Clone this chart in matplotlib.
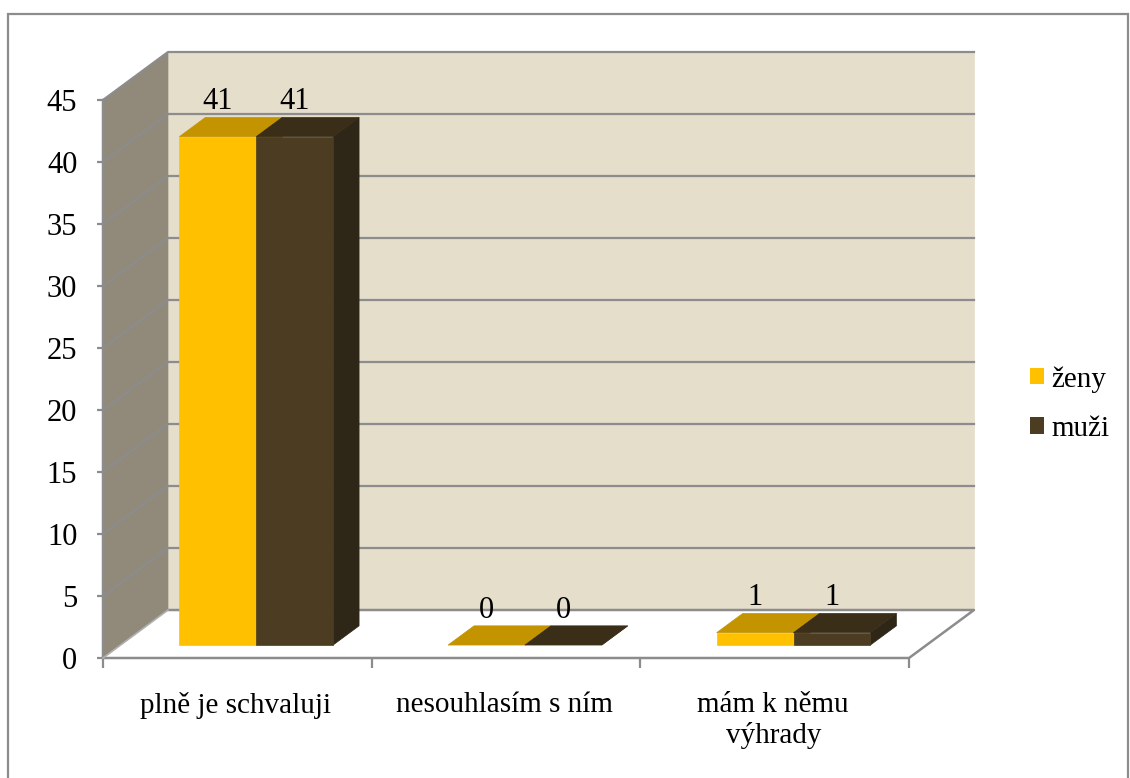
import matplotlib
matplotlib.use('Agg')
import matplotlib.pyplot as plt
from matplotlib.patches import Polygon, Rectangle, Patch

plt.rcParams['font.family'] = ['Liberation Serif', 'DejaVu Serif']

categories = ['plně je schvaluji', 'nesouhlasím s ním', 'mám k němu\nvýhrady']
zeny = [41, 0, 1]
muzi = [41, 0, 1]
series_names = ['ženy', 'muži']
yticks = [0, 5, 10, 15, 20, 25, 30, 35, 40, 45]

W, H = 1130, 778
# front plane of the fake 3d box in pixels
left, right, top, bottom = 103, 909, 100, 658
depth_x = 65 / ((right - left) / 3)
depth_y = 48 / ((bottom - top) / 45)

grid_c = '#8c8c8c'
wall_c = '#e5decb'
side_c = '#918a7b'
front_c = ['#ffc000', '#4c3d22']
top_c = ['#c49400', '#3a2e18']
right_c = ['#a07800', '#2e2616']


def proj(x, y, d):
    # d=0 front of the box, d=1 back wall
    return (x + d * depth_x, y + d * depth_y)


fig = plt.figure(figsize=(W / 100, H / 100), dpi=100)
fig.patches.append(Rectangle((8 / W, -0.01), (1128 - 8) / W, (778 - 14) / H + 0.01,
                             transform=fig.transFigure, fill=False, ec='#8c8c8c', lw=1.6))
ax = fig.add_axes([left / W, 1 - bottom / H, (right - left) / W, (bottom - top) / H])
ax.set_xlim(0, 3)
ax.set_ylim(0, 45)
ax.patch.set_visible(False)
for s in ax.spines.values():
    s.set_visible(False)


def poly(pts, fc, z=1):
    ax.add_patch(Polygon(pts, closed=True, fc=fc, ec=fc, lw=0.5, zorder=z, clip_on=False))


# walls
poly([proj(0, 0, 1), proj(3, 0, 1), proj(3, 45, 1), proj(0, 45, 1)], wall_c, 1)
poly([proj(0, 0, 0), proj(0, 0, 1), proj(0, 45, 1), proj(0, 45, 0)], side_c, 1)

# grid lines on back and side walls
for v in yticks[1:]:
    xs, ys = zip(proj(0, v, 0), proj(0, v, 1), proj(3, v, 1))
    ax.plot(xs, ys, color=grid_c, lw=1.6, zorder=2, clip_on=False)
xs, ys = zip(proj(0, 0, 1), proj(3, 0, 1), proj(3, 0, 0), proj(0, 0, 0), proj(0, 45, 0))
ax.plot(xs, ys, color=grid_c, lw=1.8, zorder=2, clip_on=False)
xs, ys = zip(proj(0, 0, 0), proj(0, 0, 1))
ax.plot(xs, ys, color='#b0b0b0', lw=1.2, zorder=2, clip_on=False)

# bars
bar_w = 0.286
d0, d1 = 0.27, 0.67
for s, vals in enumerate([zeny, muzi]):
    for i, v in enumerate(vals):
        x0 = i + 0.505 + (s - 1) * bar_w
        x1 = x0 + bar_w
        z = 3 + s
        poly([proj(x1, 0, d0), proj(x1, 0, d1), proj(x1, v, d1), proj(x1, v, d0)], right_c[s], z)
        poly([proj(x0, v, d0), proj(x1, v, d0), proj(x1, v, d1), proj(x0, v, d1)], top_c[s], z)
        if v > 0:
            poly([proj(x0, 0, d0), proj(x1, 0, d0), proj(x1, v, d0), proj(x0, v, d0)], front_c[s], z)
        px, py = proj((x0 + x1) / 2, v, d0)
        ax.annotate(str(v), (px, py), xytext=(0, 25), textcoords='offset points',
                    ha='center', va='center', fontsize=22, color='black', zorder=6,
                    annotation_clip=False)

# axes ticks
ax.set_yticks(yticks)
ax.set_xticks([0, 1, 2, 3])
ax.set_xticklabels([])
ax.tick_params(axis='x', color=grid_c, width=1.6, length=7.5)
ax.tick_params(axis='y', color=grid_c, width=1.6, length=4.5, labelsize=22, pad=14)

for i, c in enumerate(categories):
    off = -45 if '\n' in c else -34
    ax.annotate(c, (i + 0.5, 0), xytext=(-1, off), textcoords='offset points',
                ha='center', va='center', fontsize=21, linespacing=1.2,
                annotation_clip=False)

# legend
handles = [Patch(fc=front_c[0], label=series_names[0]), Patch(fc=front_c[1], label=series_names[1])]
fig.legend(handles=handles, loc='center left', bbox_to_anchor=(1030 / W, 1 - 404 / H),
           frameon=False, fontsize=21, handlelength=0.48, handleheight=0.48,
           handletextpad=0.25, labelspacing=0.8, borderpad=0, borderaxespad=0)

fig.savefig('out.png', dpi=100, facecolor='white')
